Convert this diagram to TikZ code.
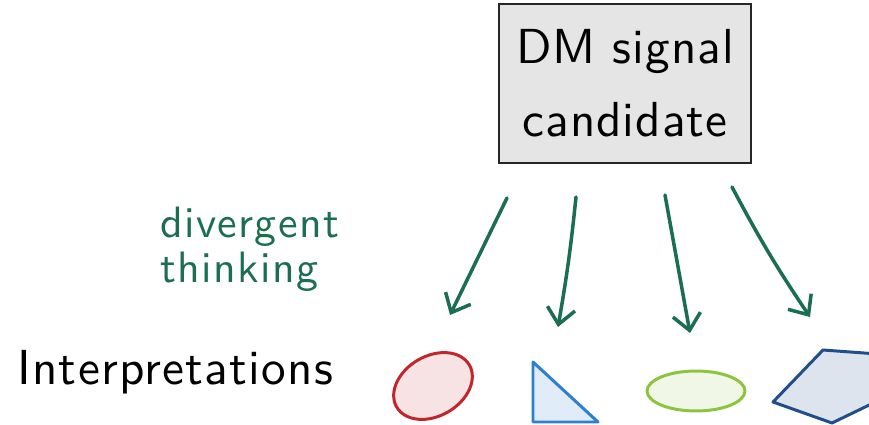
\documentclass[tikz,border=0pt]{standalone}
\usepackage{fontspec}
\usepackage{xcolor}
\usepackage{tikz}
\usetikzlibrary{arrows.meta,positioning,calc,shapes.geometric}
\newfontfamily\handsf{lmsans10-regular}[Extension=.otf,LetterSpace=2]
\newfontfamily\handgr{lmsans10-regular}[Extension=.otf,LetterSpace=3]
\newfontfamily\handti{lmsans10-regular}[Extension=.otf,LetterSpace=2.6]
\definecolor{idgreen}{HTML}{1B6E50}
\definecolor{idgray}{HTML}{E5E5E5}
\definecolor{idred}{HTML}{C0272D}
\definecolor{idblue}{HTML}{2F7FD1}
\definecolor{idlime}{HTML}{8CC440}
\definecolor{idnavy}{HTML}{1F4E8B}

\begin{document}
\begin{tikzpicture}[
    x=0.02cm,y=-0.02cm,
    cand/.style   = {rectangle,draw=black!85,fill=idgray,line width=1.2pt,
                     minimum width=5.04cm,minimum height=3.18cm,align=center,
                     font=\handsf\fontsize{28}{41.5}\selectfont},
    hand/.style   = {font=\handgr\fontsize{25}{25.6}\selectfont,
                     text=idgreen,align=left,anchor=west,inner sep=0pt},
    titre/.style  = {font=\handti\fontsize{28}{32}\selectfont,
                     anchor=base west,inner sep=0pt},
    fl/.style     = {-{Straight Barb[length=3.2mm,width=5.6mm]},idgreen,
                     line width=2pt,line cap=round},
    forme/.style  = {line width=1.7pt,line join=round},
  ]
  \useasboundingbox (0,0) rectangle (869,425);
  \clip (0,0) rectangle (869,425);

  % ── Candidat ────────────────────────────────────────────────────────────
  \node[cand] (dm) at (625,83.5) {DM signal\\candidate};

  % ── Textes ──────────────────────────────────────────────────────────────
  \node[hand]  (div) at (160,249) {divergent\\thinking};
  \node[titre] (interp) at (17,385) {Interpretations};

  % ── Formes ──────────────────────────────────────────────────────────────
  \node[ellipse,forme,draw=idred,fill=idred!13,minimum width=1.68cm,
        minimum height=1.2cm,inner sep=0pt,rotate=30] (f1) at (433,386) {};
  \draw[forme,draw=idblue,fill=idblue!15] (533,362) -- (533,422) -- (598,422) -- cycle;
  \node[ellipse,forme,draw=idlime,fill=idlime!13,minimum width=1.96cm,
        minimum height=0.8cm,inner sep=0pt] (f3) at (696,391) {};
  \draw[forme,draw=idnavy,fill=idnavy!15] (823,350) -- (905,356) -- (892,394)
        -- (832,423) -- (773,402) -- cycle;

  % ── Flèches ─────────────────────────────────────────────────────────────
  \coordinate (s1) at (507,198); \coordinate (e1) at (450,315);
  \coordinate (s2) at (576,197); \coordinate (e2) at (558,327);
  \coordinate (s3) at (665,195); \coordinate (e3) at (690,333);
  \coordinate (s4) at (732,187); \coordinate (e4) at (810,317);
  \draw[fl] (s1) -- (e1);
  \draw[fl] (s2) to[bend left=2] (e2);
  \draw[fl] (s3) -- (e3);
  \draw[fl] (s4) to[bend right=3] (e4);

\end{tikzpicture}
\end{document}
